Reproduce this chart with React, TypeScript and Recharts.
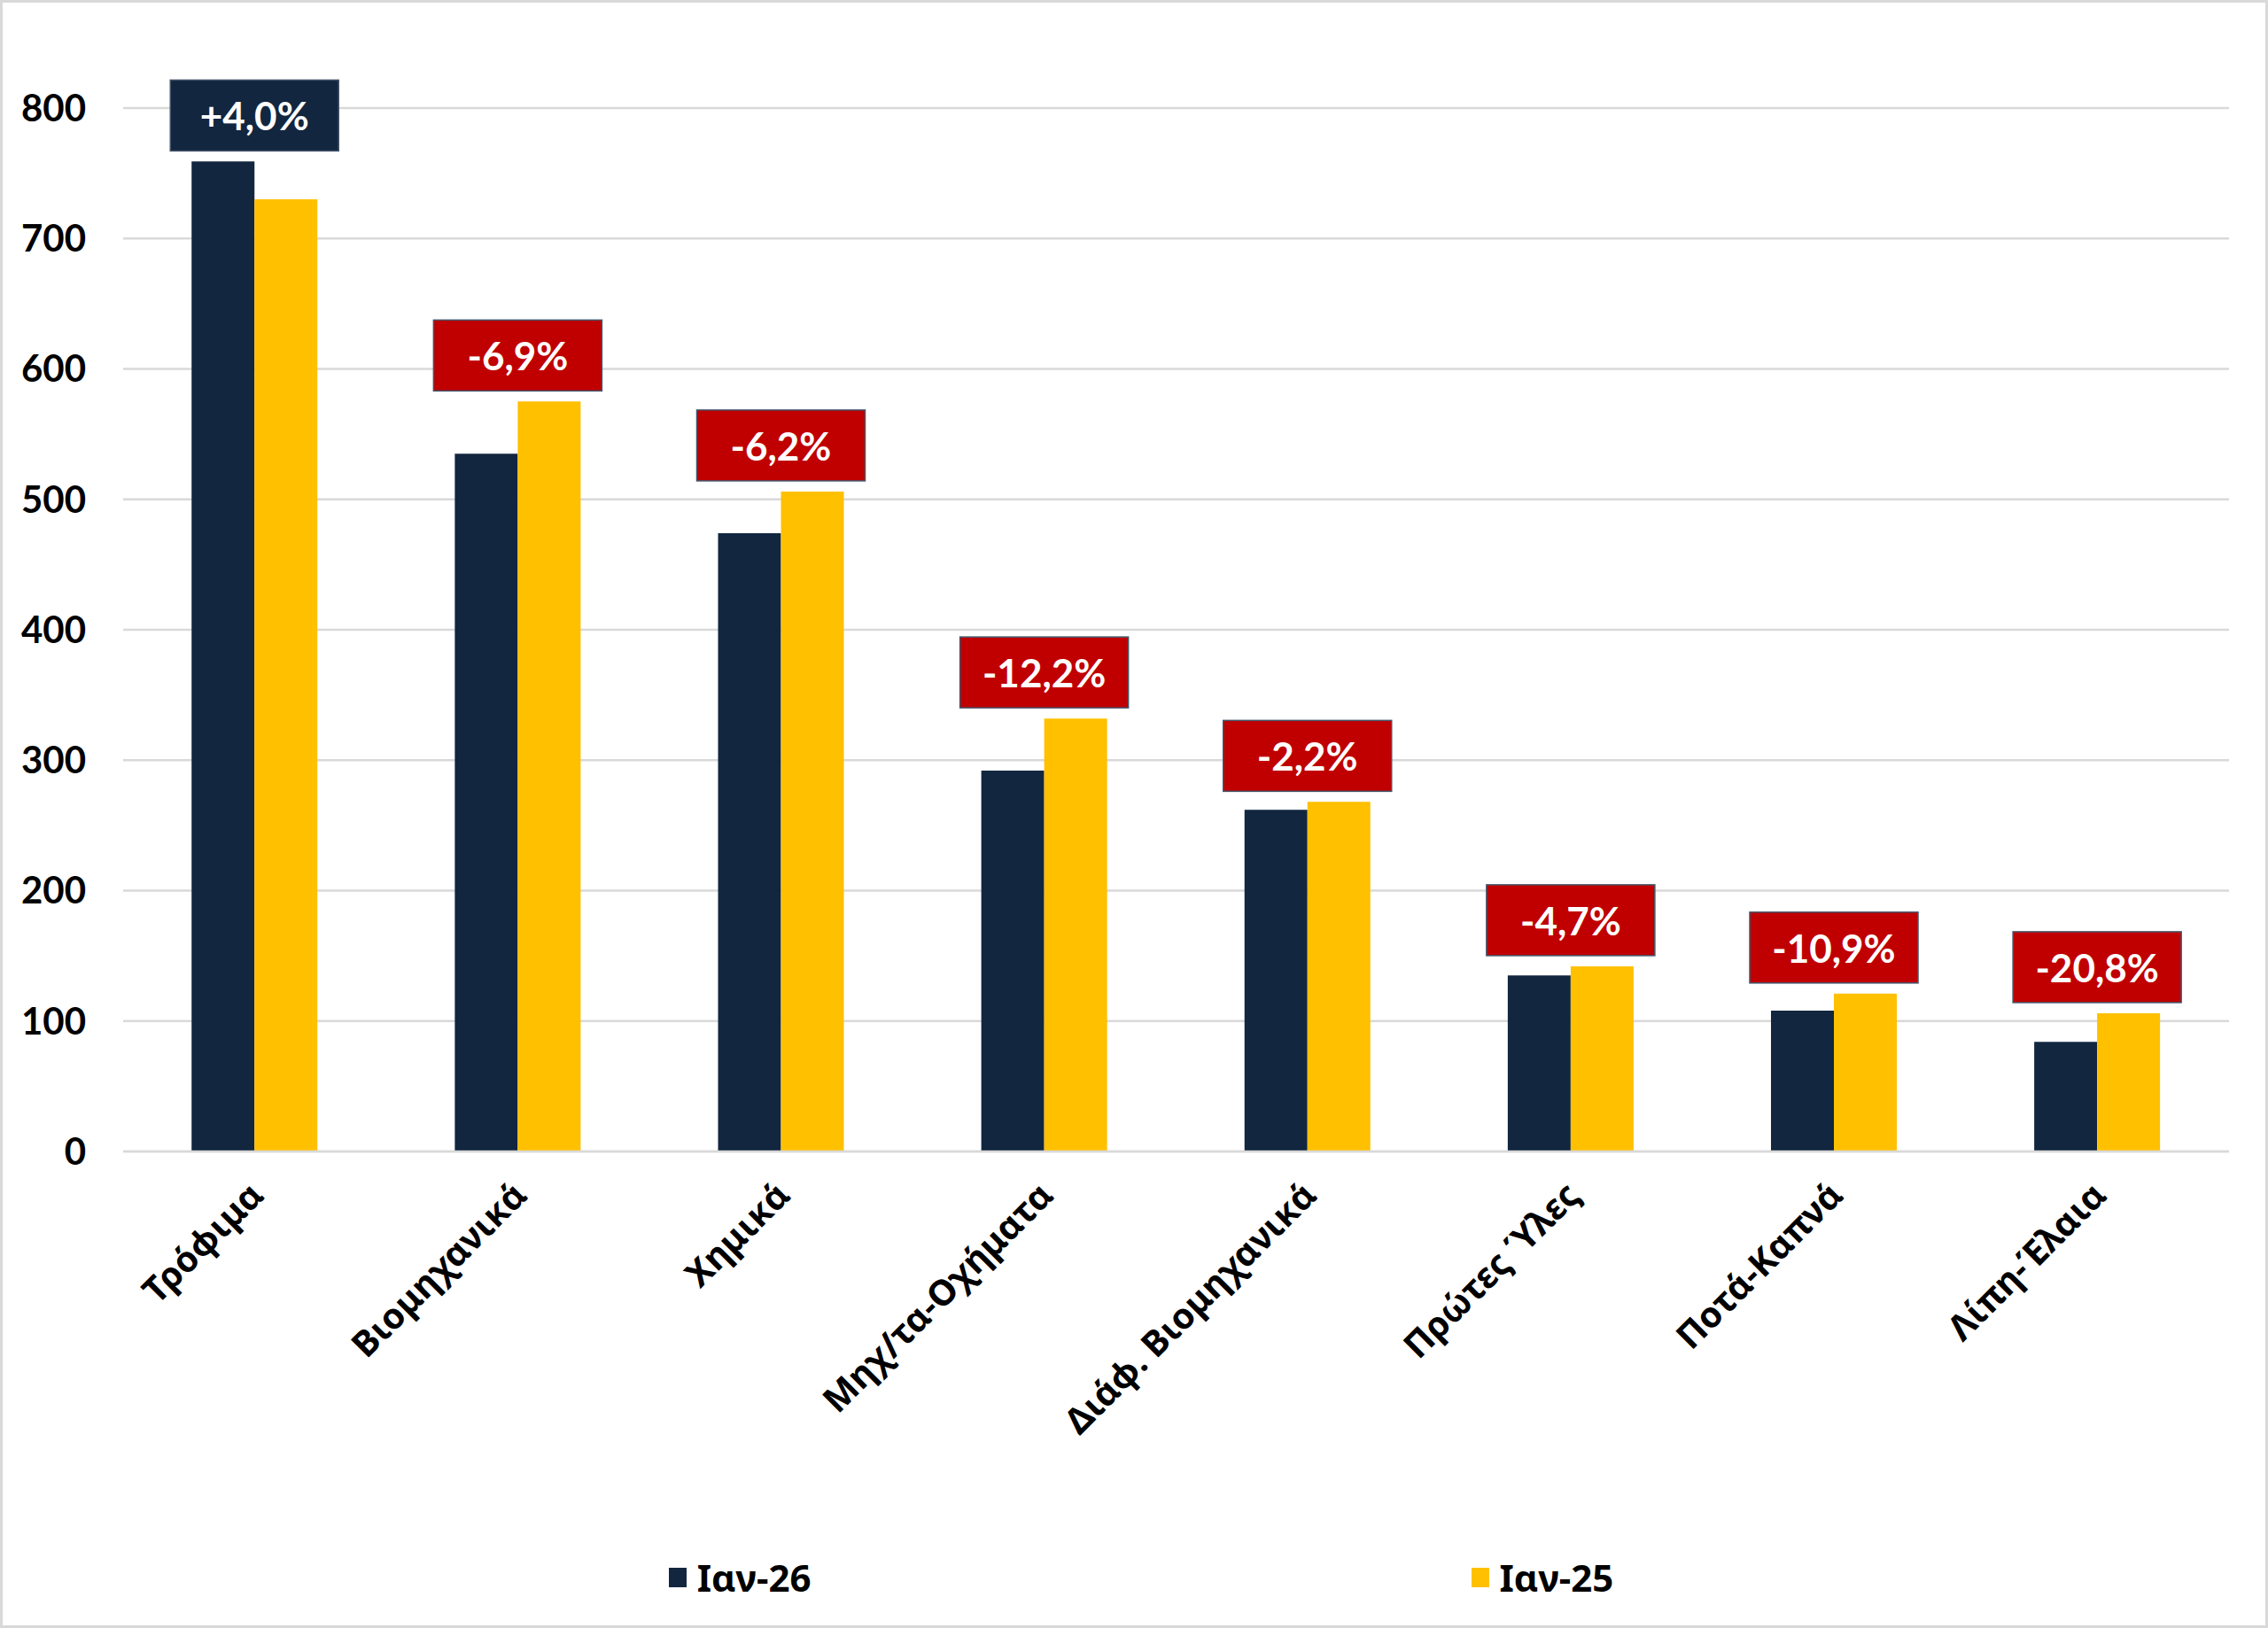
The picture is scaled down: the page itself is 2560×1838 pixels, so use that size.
import React from "react";
import { BarChart, Bar, XAxis, YAxis, CartesianGrid, Legend, LabelList } from "recharts";

const categories = [
    "Τρόφιμα",
    "Βιομηχανικά",
    "Χημικά",
    "Μηχ/τα-Οχήματα",
    "Διάφ. Βιομηχανικά",
    "Πρώτες Ύλες",
    "Ποτά-Καπνά",
    "Λίπη-Έλαια",
];
const jan26 = [759, 535, 474, 292, 262, 135, 108, 84];
const jan25 = [730, 575, 506, 332, 268, 142, 121, 106];
const changeLabels = ["+4,0%", "-6,9%", "-6,2%", "-12,2%", "-2,2%", "-4,7%", "-10,9%", "-20,8%"];
const yTicks = [0, 100, 200, 300, 400, 500, 600, 700, 800];

const NAVY = "#12263F";
const YELLOW = "#FFC000";
const RED = "#C00000";
const GRID = "#D9D9D9";
const FONT = "Lato, 'Open Sans', 'DejaVu Sans', sans-serif";
const GREEK_FONT = "'Noto Sans', 'Open Sans', 'DejaVu Sans', sans-serif";

const data = categories.map((category, i) => ({
    category,
    jan26: jan26[i],
    jan25: jan25[i],
    change: changeLabels[i],
}));

const ChangeLabel = (props: any) => {
    const { x, y, width, height, value, index } = props;
    const zeroY = y + height;
    const maxV = Math.max(jan26[index], jan25[index]);
    const topY = zeroY - (height * maxV) / jan25[index];
    const boxW = 190;
    const boxH = 80;
    const cx = x;
    const boxY = topY - 12 - boxH;
    const fill = String(value).startsWith("+") ? NAVY : RED;
    return (
        <g>
            <rect x={cx - boxW / 2} y={boxY} width={boxW} height={boxH} fill={fill} stroke="#44546A" strokeWidth={1.5} />
            <text
                x={cx}
                y={boxY + boxH / 2}
                textAnchor="middle"
                dominantBaseline="central"
                fill="#FFFFFF"
                fontSize={44}
                fontWeight="bold"
                fontFamily={FONT}
            >
                {value}
            </text>
        </g>
    );
};

const CategoryTick = (props: any) => {
    const { x, y, payload } = props;
    return (
        <g transform={`translate(${x + 12},${y + 52})`}>
            <text
                textAnchor="end"
                transform="rotate(-45)"
                fill="#000000"
                fontSize={40}
                fontWeight="bold"
                fontFamily={GREEK_FONT}
            >
                {payload.value}
            </text>
        </g>
    );
};

const LegendContent = () => (
    <div style={{ display: "flex", justifyContent: "center", gap: 745, paddingLeft: 16, fontFamily: GREEK_FONT }}>
        {[
            { name: "Ιαν-26", color: NAVY },
            { name: "Ιαν-25", color: YELLOW },
        ].map((item) => (
            <div key={item.name} style={{ display: "flex", alignItems: "center", gap: 12 }}>
                <span style={{ display: "inline-block", width: 20, height: 22, background: item.color }} />
                <span style={{ fontSize: 42, fontWeight: "bold", color: "#000" }}>{item.name}</span>
            </div>
        ))}
    </div>
);

const App = () => (
    <div style={{ position: "absolute", left: 0, top: 0, width: 2560, height: 1838, background: "#fff", fontFamily: FONT }}>
        <BarChart
            width={2560}
            height={1838}
            data={data}
            margin={{ top: 122, right: 44, left: 39, bottom: 238 }}
            barCategoryGap="26%"
            barGap={0}
        >
            <CartesianGrid vertical={false} stroke={GRID} strokeWidth={2.5} />
            <XAxis
                dataKey="category"
                height={300}
                interval={0}
                tickLine={false}
                tickSize={0}
                tickMargin={0}
                axisLine={{ stroke: GRID, strokeWidth: 2.5 }}
                tick={<CategoryTick />}
            />
            <YAxis
                width={100}
                domain={[0, 800]}
                ticks={yTicks}
                axisLine={false}
                tickLine={false}
                tickSize={0}
                tickMargin={42}
                tick={{ fill: "#000", fontSize: 42, fontWeight: "bold", fontFamily: FONT }}
            />
            <Legend
                verticalAlign="middle"
                align="center"
                layout="horizontal"
                content={<LegendContent />}
                wrapperStyle={{ top: 1752, left: 0, width: 2560 }}
            />
            <Bar dataKey="jan26" name="Ιαν-26" fill={NAVY} isAnimationActive={false} />
            <Bar dataKey="jan25" name="Ιαν-25" fill={YELLOW} isAnimationActive={false}>
                <LabelList dataKey="change" content={<ChangeLabel />} />
            </Bar>
        </BarChart>
        <div
            style={{
                position: "absolute",
                left: 0,
                top: 0,
                width: 2560,
                height: 1838,
                boxSizing: "border-box",
                border: `3px solid ${GRID}`,
                pointerEvents: "none",
            }}
        />
    </div>
);

export default App;
